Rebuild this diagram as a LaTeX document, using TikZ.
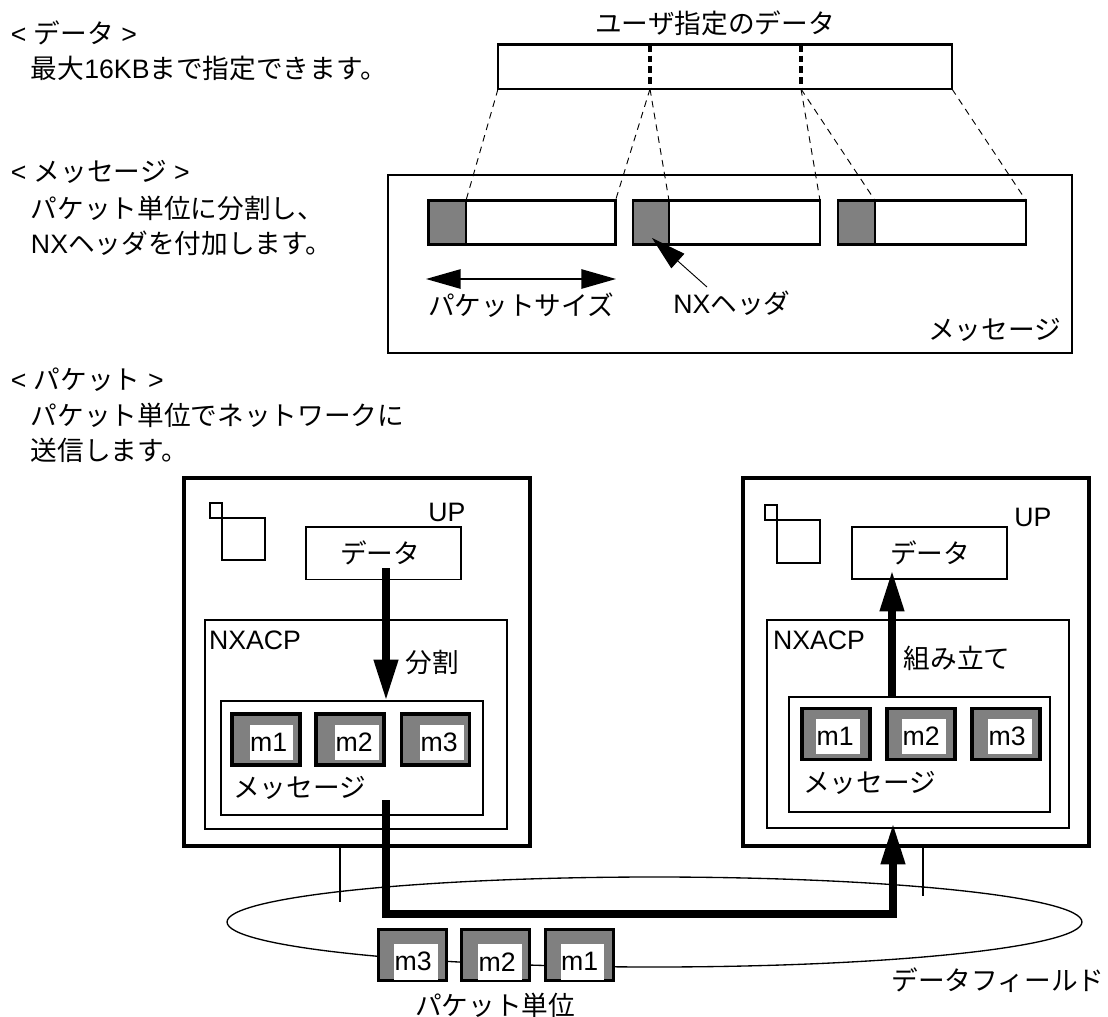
\documentclass[tikz,border=0pt]{standalone}
\usepackage{fontspec}
\setmainfont{Liberation Sans}
\newfontfamily\cjk{Noto Sans CJK JP}
\usetikzlibrary{arrows.meta,calc}
\newcommand{\J}[1]{{\cjk #1}}
\newcommand{\rbox}[7][]{%
  \pgfmathsetmacro{\cxx}{(#4+#6)/2}\pgfmathsetmacro{\cyy}{(#5+#7)/2}%
  \pgfmathsetmacro{\wxx}{(#6-#4)*0.75}\pgfmathsetmacro{\hxx}{(#7-#5)*0.75}%
  \node[#3,minimum width=\wxx pt,minimum height=\hxx pt] (#2) at (\cxx,\cyy) {#1};}
\newcommand{\mitem}[6]{%
  \rbox{#1}{gbox}{#2}{#3}{#2+68}{#3+51}
  \rbox[{\makebox[32.6pt][l]{\kern0.4pt #6}}]{#1w}{wbox}{#4}{#5}{#4+43.5}{#5+35.5}}
\definecolor{gry}{gray}{0.5}
\tikzset{
  px/.style={x=0.75pt,y=-0.75pt},
  lab/.style={inner sep=0pt,outer sep=0pt,font=\fontsize{20pt}{23pt}\selectfont},
  labw/.style={lab,anchor=west},
  b1/.style={draw=black,line width=1.3pt,inner sep=0pt,outer sep=0pt,fill=white},
  bmsg/.style={draw=black,line width=1.5pt,inner sep=0pt,outer sep=0pt,fill=white},
  bbar/.style={draw=black,line width=2pt,inner sep=0pt,outer sep=0pt,fill=white},
  bsq/.style={draw=black,line width=2pt,inner sep=0pt,outer sep=0pt,fill=white},
  bmach/.style={draw=black,line width=2.5pt,inner sep=0pt,outer sep=0pt,fill=white},
  gbox/.style={draw=black,line width=2.5pt,inner sep=0pt,outer sep=0pt,fill=gry},
  gcell/.style={draw=black,line width=2.2pt,inner sep=0pt,outer sep=0pt,fill=gry},
  pcell/.style={draw=black,line width=2.2pt,inner sep=0pt,outer sep=0pt,fill=white},
  wbox/.style={inner sep=0pt,outer sep=0pt,fill=white,font=\fontsize{20pt}{23pt}\selectfont},
  thindash/.style={line width=0.7pt,dash pattern=on 5pt off 4pt},
  bardash/.style={line width=2.3pt,dash pattern=on 5pt off 3pt},
  bigarrow/.style={line width=6pt,-{Triangle[length=31pt,width=17pt]}},
  dblarrow/.style={line width=1.3pt,{Triangle[length=26pt,width=14.5pt]}-{Triangle[length=26pt,width=14.5pt]}},
  ptrarrow/.style={line width=0.7pt,-{Triangle[length=26pt,width=14.5pt]}},
  wire/.style={line width=1.1pt},
}
\begin{document}
\begin{tikzpicture}[px]
\useasboundingbox (0,0) rectangle (1108,1017);
% left captions
\node[labw] (t1) at (11,33) {< \J{データ} >};
\node[labw] (t2) at (31,68) {\J{最大}16KB\J{まで指定できます。}};
\node[labw] (t3) at (11,172) {< \J{メッセージ} >};
\node[labw] (t4) at (31,208) {\J{パケット単位に分割し、}};
\node[labw] (t5) at (31,243) {NX\J{ヘッダを付加します。}};
\node[labw] (t6) at (11,380) {< \J{パケット} >};
\node[labw] (t7) at (31,415) {\J{パケット単位でネットワークに}};
\node[labw] (t8) at (31,450) {\J{送信します。}};
% user data bar
\node[lab] (ud) at (715,23) {\J{ユーザ指定のデータ}};
\rbox{bar}{bbar}{498}{44.5}{952}{89}
\coordinate (d1) at (650,45);\coordinate (d1b) at (650,89);
\coordinate (d2) at (801,45);\coordinate (d2b) at (801,89);
\draw[bardash] (d1) -- (d1b);
\draw[bardash] (d2) -- (d2b);
% message box
\rbox{msg}{bmsg}{388}{175}{1072}{353}
\rbox{p1}{pcell}{428.5}{200.5}{615.5}{244.5}
\rbox{h1}{gcell}{428.5}{200.5}{466}{244.5}
\rbox{p2}{pcell}{633}{200.5}{820}{244.5}
\rbox{h2}{gcell}{633}{200.5}{669}{244.5}
\rbox{p3}{pcell}{838}{200.5}{1026}{244.5}
\rbox{h3}{gcell}{838}{200.5}{875}{244.5}
\draw[thindash] (bar.south west) -- (h1.north east);
\draw[thindash] (d1b) -- (p1.north east);
\draw[thindash] (d1b) -- (h2.north east);
\draw[thindash] (d2b) -- (p2.north east);
\draw[thindash] (d2b) -- (h3.north east);
\draw[thindash] (bar.south east) -- (p3.north east);
\coordinate (sl) at (426,279);\coordinate (sr) at (616,279);
\draw[dblarrow] (sl) -- (sr);
\node[lab] (ps) at (521,305) {\J{パケットサイズ}};
\node[lab] (nx) at (732,303) {NX\J{ヘッダ}};
\coordinate (nxs) at (707,287);\coordinate (nxt) at (652,238);
\draw[ptrarrow] (nxs) -- (nxt);
\node[lab,anchor=east] (ml) at (1061,330) {\J{メッセージ}};
% network ellipse
\coordinate (ec) at (654.5,922);
\draw[line width=1pt] (ec) ellipse [x radius=320.6pt,y radius=33.75pt];
% left machine
\rbox{mL}{bmach}{184}{478}{530}{846}
\rbox{sqb}{bsq}{222}{518}{265}{560}
\rbox{sqa}{bsq}{210}{503}{222}{518}
\node[lab] (upL) at (447,512) {UP};
\rbox{dL}{b1}{306}{527}{461}{579.5}
\node[lab] (dLt) at (380,553) {\J{データ}};
\rbox{nL}{b1}{205}{620}{507}{829}
\node[labw] (nxL) at (209,640) {NXACP};
\rbox{iL}{b1}{221}{701}{483}{815}
\mitem{la}{232}{714}{249.5}{724.5}{m1}
\mitem{lb}{316}{714}{335}{724.5}{m2}
\mitem{lc}{401.5}{714}{420}{724.5}{m3}
\node[labw] (msgtL) at (233,788) {\J{メッセージ}};
\node[lab] (splitL) at (432,662) {\J{分割}};
\coordinate (aL) at (386,568);
\draw[bigarrow] (aL) -- (aL |- iL.north);
% right machine
\rbox{mR}{bmach}{743}{478}{1089}{846}
\rbox{sqd}{bsq}{777}{520}{820}{563}
\rbox{sqc}{bsq}{765}{505}{777}{520}
\node[lab] (upR) at (1033,517) {UP};
\rbox{dR}{b1}{852}{527}{1007}{579}
\node[lab] (dRt) at (930,553) {\J{データ}};
\rbox{nR}{b1}{767}{620}{1069}{828}
\node[labw] (nxR) at (773,640) {NXACP};
\rbox{iR}{b1}{789}{697}{1050}{812}
\mitem{ra}{802}{708.5}{816}{718.5}{m1}
\mitem{rb}{887}{708.5}{902}{718.5}{m2}
\mitem{rc}{972}{708.5}{988}{718.5}{m3}
\node[labw] (msgtR) at (803,783) {\J{メッセージ}};
\node[lab] (asm) at (957,658) {\J{組み立て}};
\coordinate (aR) at (892,697);\coordinate (aRt) at (892,570);
\draw[bigarrow] (aR) -- (aRt);
% bottom path and stubs
\coordinate (w1) at (340,846);\coordinate (w1e) at (340,902);
\coordinate (w2) at (923,846);\coordinate (w2e) at (923,896);
\draw[wire] (w1) -- (w1e);
\draw[wire] (w2) -- (w2e);
\coordinate (pa) at (386,800);\coordinate (pb) at (386,914);\coordinate (pc) at (893,914);\coordinate (pd) at (893,823);
\draw[bigarrow] (pa) -- (pb) -- (pc) -- (pd);
% packet row
\mitem{sa}{378.5}{929.5}{394}{944}{m3}
\mitem{sb}{461.5}{929.5}{478}{944}{m2}
\mitem{sc}{545.5}{929.5}{560.5}{944}{m1}
\node[lab] (unit) at (495,1005) {\J{パケット単位}};
\node[lab] (df) at (998,980) {\J{データフィールド}};
\end{tikzpicture}
\end{document}
